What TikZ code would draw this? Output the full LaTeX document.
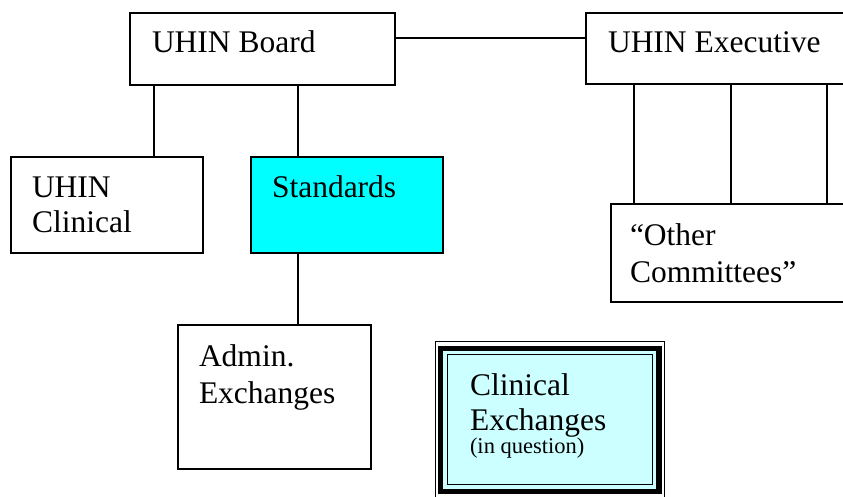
\documentclass[tikz,border=0pt]{standalone}
\usepackage{fontspec}
\setmainfont{Liberation Serif}
\usetikzlibrary{fit}
\definecolor{stdcyan}{RGB}{0,255,255}
\definecolor{palecyan}{RGB}{204,255,255}
\tikzset{
  box/.style={draw=black, line width=1.3pt, inner sep=0pt, outer sep=0pt, fill=white},
  conn/.style={draw=black, line width=1.3pt},
  lbl/.style={inner sep=0pt, outer sep=0pt, anchor=base west, font=\fontsize{31.5}{36}\selectfont},
  smalllbl/.style={inner sep=0pt, outer sep=0pt, anchor=base west, font=\fontsize{22.5}{26}\selectfont},
}
\begin{document}
\begin{tikzpicture}[x=1pt,y=-1pt]
\useasboundingbox (0,0) rectangle (843,497);
\clip (0,0) rectangle (843,497);
\fill[white] (0,0) rectangle (843,497);
% boxes
\node[box, fit={(130,13) (395,85)}] (board) {};
\node[box, fit={(586,13) (870,84)}] (exec) {};
\node[box, fit={(11,157) (203,253)}] (clin) {};
\node[box, fill=stdcyan, fit={(251,157) (443,253)}] (std) {};
\node[box, fit={(178,325) (371,469)}] (admin) {};
\node[box, fit={(611,204) (870,302)}] (oc) {};
% clinical exchanges triple frame
\node[draw=black, line width=1.3pt, inner sep=0pt, fill=white, fit={(435.3,341.8) (664.3,520)}] (ceout) {};
\node[draw=black, line width=5.5pt, inner sep=0pt, fill=palecyan, fit={(440.7,348.3) (658.8,491.7)}] (cemid) {};
\node[draw=black, line width=1.3pt, inner sep=0pt, fill=palecyan, fit={(447.2,354.8) (652.5,484.5)}] (ce) {};
% connector x positions
\coordinate (xa) at (154,0);
\coordinate (xb) at (298,0);
\coordinate (xc) at (634,0);
\coordinate (xd) at (731,0);
\coordinate (xe) at (827,0);
% connectors
\draw[conn] ([yshift=11pt]board.east) -- ([yshift=11pt]board.east -| exec.west);
\draw[conn] (xa |- board.south) -- (xa |- clin.north);
\draw[conn] (xb |- board.south) -- (xb |- std.north);
\draw[conn] (xb |- std.south) -- (xb |- admin.north);
\draw[conn] (xc |- exec.south) -- (xc |- oc.north);
\draw[conn] (xd |- exec.south) -- (xd |- oc.north);
\draw[conn] (xe |- exec.south) -- (xe |- oc.north);
% labels
\node[lbl] (tboard) at (152,53) {UHIN Board};
\node[lbl] (texec) at (608,53) {UHIN Executive};
\node[lbl] (tclin1) at (32,197) {UHIN};
\node[lbl] (tclin2) at (32,233) {Clinical};
\node[lbl] (tstd) at (272,197) {Standards};
\node[lbl] (toc1) at (630,245) {“Other};
\node[lbl] (toc2) at (630,282) {Committees”};
\node[lbl] (tadm1) at (199,366) {Admin.};
\node[lbl] (tadm2) at (199,403) {Exchanges};
\node[lbl] (tce1) at (470,395) {Clinical};
\node[lbl] (tce2) at (470,430) {Exchanges};
\node[smalllbl] (tce3) at (470,453) {(in question)};
\end{tikzpicture}
\end{document}
